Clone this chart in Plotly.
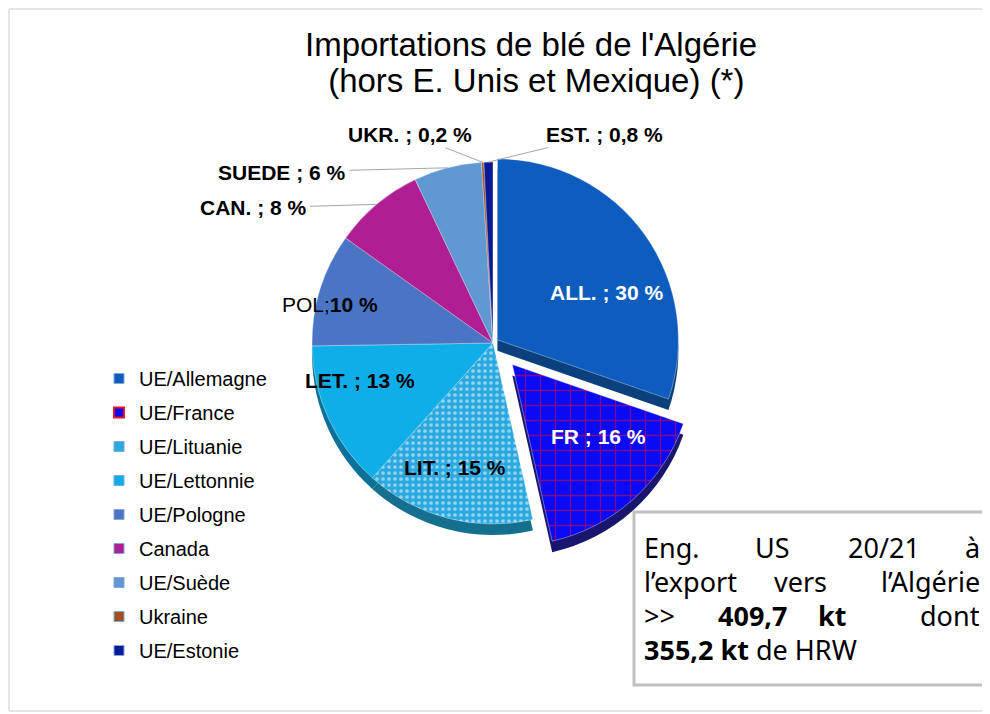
import math
import plotly.graph_objects as go

# The page body has an 8px margin, so the figure is shrunk and all reference
# pixel positions are shifted by that offset.
OFF = 8
W, H = 990 - OFF, 714 - OFF

# ---------------- data ----------------
categories = ["UE/Allemagne", "UE/France", "UE/Lituanie", "UE/Lettonnie", "UE/Pologne",
              "Canada", "UE/Suède", "Ukraine", "UE/Estonie"]
shares = [30, 16, 15, 13, 10, 8, 6, 0.2, 0.8]
slice_labels = ["<b>ALL. ; 30 %</b>", "<b>FR ; 16 %</b>", "<b>LIT. ; 15 %</b>", "<b>LET. ; 13 %</b>",
                "POL;<b>10 %</b>", "<b>CAN. ; 8 %</b>", "<b>SUEDE ; 6 %</b>",
                "<b>UKR. ; 0,2 %</b>", "<b>EST. ; 0,8 %</b>"]
title_lines = ["Importations de blé de l'Algérie", " (hors E. Unis et Mexique) (*)"]

# ---------------- styles ----------------
top_colors = ["#0D5CBE", "#0A0AF5", "#2AA8E0", "#0FAEE8", "#4A74C4",
              "#B01E94", "#5F98D2", "#A0501E", "#0B1A96"]
side_colors = ["#0B3F7E", "#1A1670", "#15708F", "#0B7198", "#2F4D86",
               "#751360", "#3E6690", "#6A3514", "#07115F"]
pattern_shapes = ["", "+", ".", "", "", "", "", "", ""]
pattern_fg = ["#0D5CBE", "#E8102A", "#FFFFFF", "#000", "#000", "#000", "#000", "#000", "#000"]
pattern_size = [8, 15, 6, 8, 8, 8, 8, 8, 8]
pattern_solid = [0.2, 0.16, 0.3, 0.2, 0.2, 0.2, 0.2, 0.2, 0.2]
pulls = [0.03, 0.16, 0, 0, 0, 0, 0, 0, 0]

# label placement (reference pixel positions of label text), colours
label_pos = [(607, 292), (598, 436), (455, 467), (360, 381), (330, 305),
             (253, 208), (282, 172), (410, 134), (604, 134)]
label_col = ["white", "white", "black", "black", "black", "black", "black", "black", "black"]
outside = [False, False, False, False, False, True, True, True, True]

CX, CY, R = 493, 343, 181      # pie centre / radius in reference pixels
DEPTH = 11                      # thickness of the 3D rim


def px(x):
    return (x - OFF) / W


def py(y):
    return 1 - (y - OFF) / H


half = R * (1 + max(pulls))
dom_x = [px(CX - half), px(CX + half)]
dom_y = [py(CY + half), py(CY - half)]
dom_y_side = [py(CY + half + DEPTH), py(CY - half + DEPTH)]

fig = go.Figure()

# rim (3D side)
fig.add_trace(go.Pie(
    labels=categories, values=shares, sort=False, direction="clockwise", rotation=0,
    pull=pulls, domain=dict(x=dom_x, y=dom_y_side),
    marker=dict(colors=side_colors, line=dict(width=0)),
    textinfo="none", hoverinfo="skip", showlegend=False,
))

# top surface
fig.add_trace(go.Pie(
    labels=categories, values=shares, sort=False, direction="clockwise", rotation=0,
    pull=pulls, domain=dict(x=dom_x, y=dom_y),
    marker=dict(colors=top_colors, line=dict(width=0.6, color="rgba(255,255,255,0.6)"),
                pattern=dict(shape=pattern_shapes, fgcolor=pattern_fg, size=pattern_size,
                             solidity=pattern_solid, fillmode="overlay")),
    textinfo="none", hovertemplate="%{label}: %{value} %<extra></extra>", showlegend=False,
))

# legend entries
for i, (name, col) in enumerate(zip(categories, top_colors)):
    line_col = "#E8102A" if name == "UE/France" else "#7FA7D9"
    line_w = 2 if name == "UE/France" else 1
    fig.add_trace(go.Scatter(
        x=[None], y=[None], mode="markers", name=name, legendgroup=f"g{i}",
        marker=dict(symbol="square", size=10, color=col, line=dict(color=line_col, width=line_w)),
    ))

annotations = []
# title
for line, ty in zip(title_lines, [44, 80]):
    annotations.append(dict(x=px(531), y=py(ty), xref="paper", yref="paper", text=line,
                            showarrow=False, xanchor="center", yanchor="middle",
                            font=dict(family="Liberation Sans, Arial", size=33, color="black")))

# slice labels
total = sum(shares)
cum = 0
for i, v in enumerate(shares):
    mid = (cum + v / 2) / total * 2 * math.pi
    cum += v
    lx, ly = label_pos[i]
    font = dict(family="Liberation Sans, Arial", size=21, color=label_col[i])
    if outside[i]:
        tx = CX + R * math.sin(mid)
        ty = CY - R * math.cos(mid)
        annotations.append(dict(
            x=px(tx), y=py(ty), xref="paper", yref="paper",
            ax=lx - tx, ay=ly - ty, axref="pixel", ayref="pixel",
            text=slice_labels[i], showarrow=True, arrowhead=0, arrowwidth=1,
            arrowcolor="#A6A6A6", standoff=0, startstandoff=2, font=font,
        ))
    else:
        annotations.append(dict(
            x=px(lx), y=py(ly), xref="paper", yref="paper", text=slice_labels[i],
            showarrow=False, font=font, xanchor="center", yanchor="middle",
        ))

# text box
box_font = dict(family="Noto Sans, Lato, sans-serif", size=27, color="black")
box_words = [
    # (text, x, anchor, y)
    ("Eng.", 642, "left", 547), ("US", 772, "center", 547), ("20/21", 884, "center", 547), ("à", 982, "right", 547),
    ("l’export", 642, "left", 581), ("vers", 800, "center", 581), ("l’Algérie", 982, "right", 581),
    ("&gt;&gt;", 642, "left", 615), ("<b>409,7</b>", 752, "center", 615), ("<b>kt</b>", 832, "center", 615),
    ("dont", 982, "right", 615),
    ("<b>355,2 kt</b> de HRW", 642, "left", 649),
]
for t, x, anc, y in box_words:
    annotations.append(dict(x=px(x), y=py(y), xref="paper", yref="paper", text=t,
                            showarrow=False, xanchor=anc, yanchor="middle", font=box_font))

frame = dict(color="#DDDDDD", width=1.5)
shapes = [
    dict(type="rect", xref="paper", yref="paper", x0=px(634), x1=px(1000), y0=py(685), y1=py(512),
         line=dict(color="#BFBFBF", width=3), fillcolor="white", layer="above"),
    dict(type="line", xref="paper", yref="paper", x0=px(9), x1=px(1000), y0=py(711), y1=py(711),
         line=frame, layer="below"),
    dict(type="line", xref="paper", yref="paper", x0=px(9), x1=px(1000), y0=py(9), y1=py(9),
         line=frame, layer="below"),
    dict(type="line", xref="paper", yref="paper", x0=px(9), x1=px(9), y0=py(9), y1=py(711),
         line=frame, layer="below"),
]

fig.update_layout(
    width=W, height=H, margin=dict(l=0, r=0, t=0, b=0),
    paper_bgcolor="white", plot_bgcolor="white",
    xaxis=dict(visible=False), yaxis=dict(visible=False),
    legend=dict(x=px(99), y=py(359), xanchor="left", yanchor="top", tracegroupgap=5,
                itemwidth=30, bgcolor="rgba(0,0,0,0)",
                font=dict(family="Liberation Sans, Arial", size=20, color="black")),
    annotations=annotations, shapes=shapes,
)

fig.write_html("out.html")
